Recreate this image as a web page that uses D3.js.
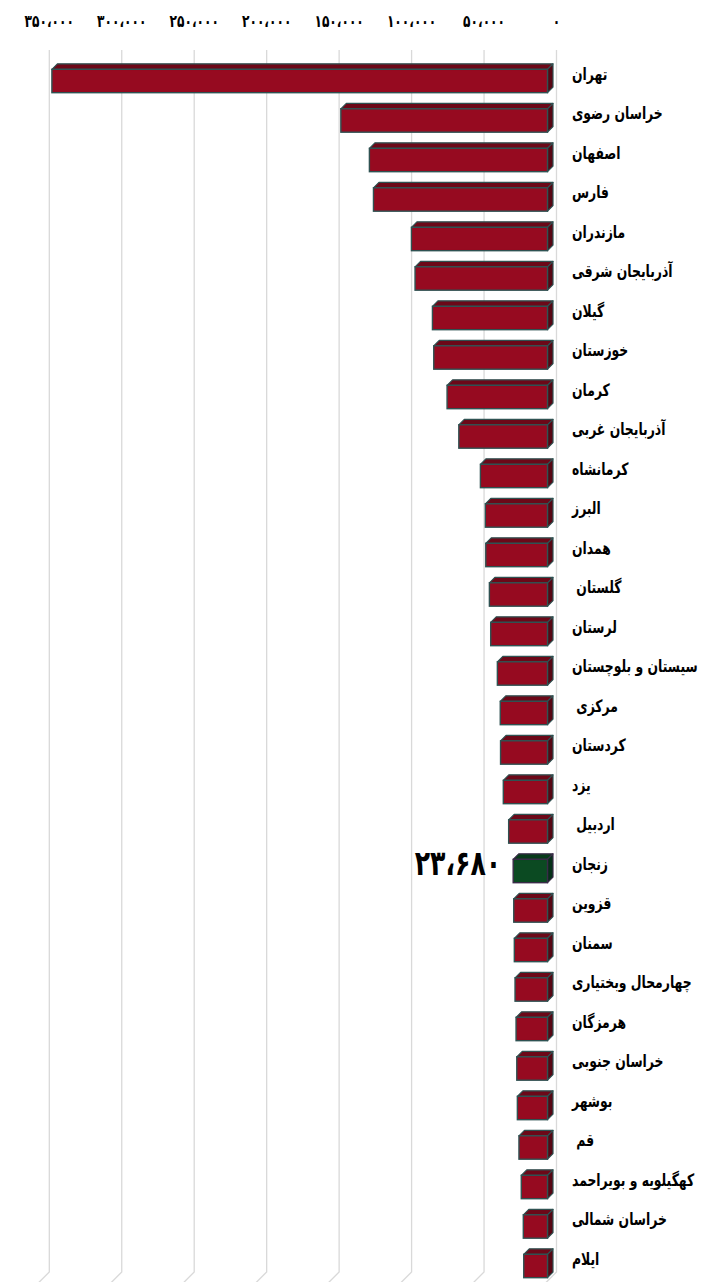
<!DOCTYPE html>
<html lang="fa">
<head>
<meta charset="utf-8">
<script src="https://cdn.jsdelivr.net/npm/d3@7"></script>
<style>
  html, body { margin: 0; padding: 0; background: #ffffff; }
  svg { display: block; }
  text { font-family: "DejaVu Sans Condensed", "DejaVu Sans", sans-serif; }
</style>
</head>
<body>
<svg id="chart" width="707" height="1282"></svg>
<script>
// Provinces, top to bottom
const provinces = [
  "تهران", "خراسان رضوی", "اصفهان", "فارس", "مازندران", "آذربایجان شرقی",
  "گیلان", "خوزستان", "کرمان", "آذربایجان غربی", "کرمانشاه", "البرز",
  "همدان", " گلستان", "لرستان", "سیستان و بلوچستان", " مرکزی", "کردستان",
  "یزد", " اردبیل", "زنجان", "قزوین", "سمنان", "چهارمحال وبختیاری",
  "هرمزگان", "خراسان جنوبی", "بوشهر", " قم", "کهگیلویه و بویراحمد",
  "خراسان شمالی", "ایلام"
];

// One value per province
const values = [
  342000, 142600, 122900, 120100, 93900, 91400,
  79400, 78500, 69300, 61200, 46300, 42900,
  42600, 40100, 39200, 34600, 32600, 32400,
  30500, 26800, 23680, 23300, 22900, 22400,
  21700, 21200, 20800, 19700, 18100,
  16700, 16400
];

// Province shown in its own colour, with its value written beside it
const highlighted = "زنجان";

// Value-axis ticks
const tickValues = [0, 50000, 100000, 150000, 200000, 250000, 300000, 350000];

const data = provinces.map((p, i) => ({ name: p, value: values[i] }));

const faDigits = "۰۱۲۳۴۵۶۷۸۹";
const toFa = s => s.replace(/\d/g, d => faDigits[+d]).replace(/,/g, "،");
const fmt = v => toFa(d3.format(",")(v));

const svg = d3.select("#chart");

// Back-wall value scale (bars run right to left)
const x = d3.scaleLinear().domain([0, 350000]).range([556.5, 49.3]);

// Rows
const y = d3.scaleBand()
  .domain(provinces)
  .range([61.25, 1285.75])
  .paddingInner(0.408)
  .paddingOuter(0.204);

// 3D geometry of each bar
const depthX = 5.5, depthY = 5.5;   // oblique depth of a bar
const wallGap = 9;                   // front faces sit in front of the wall
const fx = v => x(v) - wallGap;

const gridTop = 50, gridBottom = 1272;

// Gridlines on the back wall, turning onto the floor at the bottom
svg.append("g").attr("class", "grid")
  .selectAll("path")
  .data(tickValues)
  .join("path")
  .attr("d", d => `M${x(d)},${gridTop} L${x(d)},${gridBottom} L${x(d) - 12},${gridBottom + 12}`)
  .attr("fill", "none")
  .attr("stroke", "#d9d9d9")
  .attr("stroke-width", 1.3);

// Tick labels along the top
svg.append("g").attr("class", "ticks")
  .selectAll("text")
  .data(tickValues)
  .join("text")
  .attr("transform", d => `translate(${x(d)},21) scale(0.8,1)`)
  .attr("text-anchor", "middle")
  .attr("dominant-baseline", "central")
  .attr("font-size", 17)
  .attr("font-weight", "bold")
  .attr("fill", "#000")
  .text(d => fmt(d));

const palette = {
  normal: { front: "#960a20", top: "#6c0818", side: "#560613", stroke: "#2f5252" },
  accent: { front: "#0b4a22", top: "#083a1a", side: "#053018", stroke: "#3a2b48" }
};

const bars = svg.append("g").attr("class", "bars")
  .selectAll("g")
  .data(data)
  .join("g");

bars.each(function (d) {
  const g = d3.select(this);
  const c = d.name === highlighted ? palette.accent : palette.normal;
  const x0 = fx(d.value), x1 = fx(0);
  const y0 = y(d.name), h = y.bandwidth();
  // top face
  g.append("path")
    .attr("d", `M${x0},${y0} L${x0 + depthX},${y0 - depthY} L${x1 + depthX},${y0 - depthY} L${x1},${y0} Z`)
    .attr("fill", c.top).attr("stroke", c.stroke).attr("stroke-width", 1.2).attr("stroke-linejoin", "round");
  // side face
  g.append("path")
    .attr("d", `M${x1},${y0} L${x1 + depthX},${y0 - depthY} L${x1 + depthX},${y0 + h - depthY} L${x1},${y0 + h} Z`)
    .attr("fill", c.side).attr("stroke", c.stroke).attr("stroke-width", 1.2).attr("stroke-linejoin", "round");
  // front face
  g.append("rect")
    .attr("x", x0).attr("y", y0)
    .attr("width", x1 - x0).attr("height", h)
    .attr("fill", c.front).attr("stroke", c.stroke).attr("stroke-width", 1.4);
});

// Province names to the right of the bars (narrowed horizontally)
svg.append("g").attr("class", "labels")
  .selectAll("text")
  .data(data)
  .join("text")
  .attr("transform", d => `translate(572,${y(d.name) + 5}) scale(0.81,1)`)
  .attr("text-anchor", "start")
  .attr("dominant-baseline", "central")
  .attr("font-size", 17)
  .attr("font-weight", "bold")
  .attr("fill", "#000")
  .style("white-space", "pre")
  .text(d => d.name);

// Value written beside the highlighted province
const hd = data.find(d => d.name === highlighted);
svg.append("text")
  .attr("transform", `translate(${fx(hd.value) - 12},${y(hd.name) + 4}) scale(0.8,1)`)
  .attr("text-anchor", "end")
  .attr("dominant-baseline", "central")
  .attr("font-size", 35)
  .attr("font-weight", "bold")
  .attr("fill", "#000")
  .text(fmt(hd.value));
</script>
</body>
</html>
